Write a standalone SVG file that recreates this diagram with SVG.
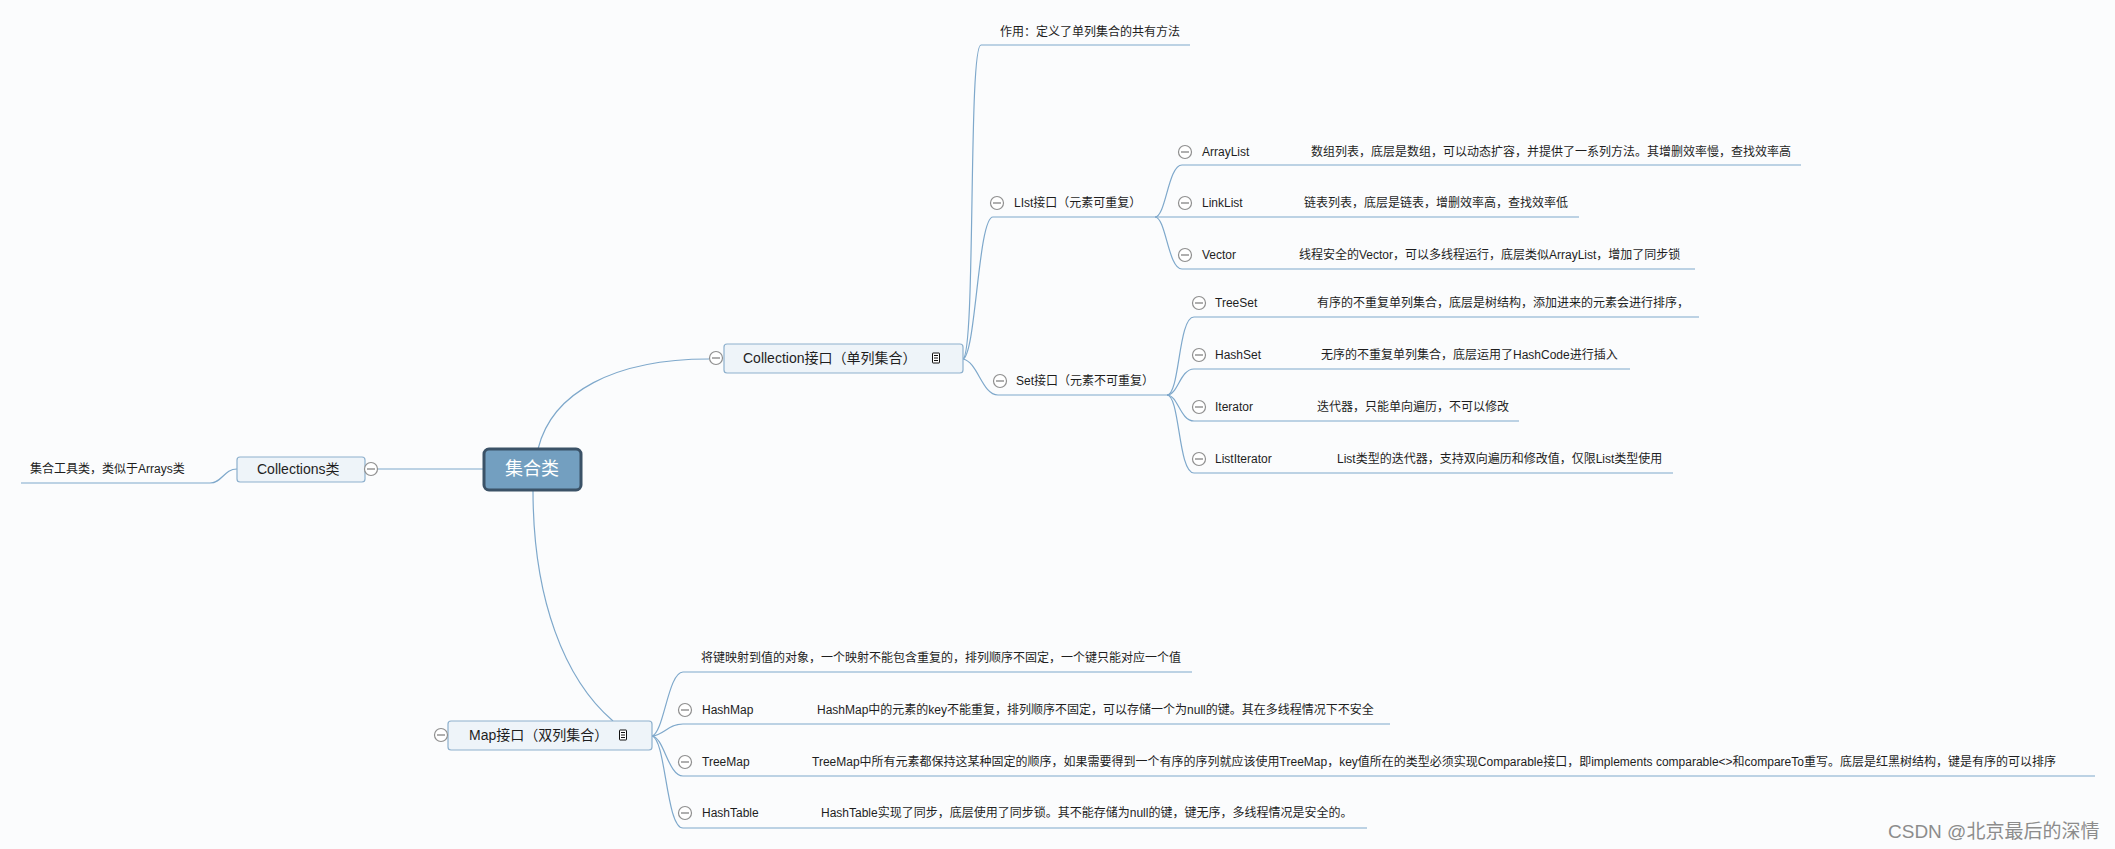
<svg xmlns="http://www.w3.org/2000/svg" width="2115" height="849" viewBox="0 0 2115 849">
<defs>
<style>
text{font-family:"Liberation Sans","Noto Sans CJK SC",sans-serif;fill:#1e1e1e;}
.t12{font-size:12px;}
.t14{font-size:14px;}
.root{font-size:18px;fill:#fff;text-anchor:middle;}
.wm{font-size:19px;fill:#8c8c8c;}
.ln{fill:none;stroke:#7ea8cb;stroke-width:1.2;}
.box{fill:#eef4f9;stroke:#8db0cd;stroke-width:1.2;}
.col{fill:#fff;stroke:#8f8f8f;stroke-width:1.2;}
.colm{stroke:#7a7a7a;stroke-width:1.2;}
.note{fill:#fff;stroke:#111;stroke-width:1;}
</style>
<g id="collapse">
<circle class="col" cx="0" cy="0" r="6.5"/>
<line class="colm" x1="-4" y1="0" x2="4" y2="0"/>
</g>
<g id="noteicon">
<rect class="note" x="-3.5" y="-5" width="7" height="10" rx="0.5"/>
<line stroke="#111" stroke-width="1" x1="-2" y1="-2.5" x2="2" y2="-2.5"/>
<line stroke="#111" stroke-width="1" x1="-2" y1="0" x2="2" y2="0"/>
<line stroke="#111" stroke-width="1" x1="-2" y1="2.5" x2="2" y2="2.5"/>
</g>
</defs>
<rect x="0" y="0" width="2115" height="849" fill="#fbfcfd"/>

<g id="connectors">
<path class="ln" d="M377,469 H484"/>
<path class="ln" d="M237,469 C224,469 222,483 210,483 H21"/>
<path class="ln" d="M538,449 C552,392 615,359 709,359"/>
<path class="ln" d="M533,490 C533,600 565,680 613,721"/>
<path class="ln" d="M963,359 C976,352 968,45 981,45 H1190"/>
<path class="ln" d="M963,359 C976,355 978,217 993,217 H1155"/>
<path class="ln" d="M963,359 C978,362 982,395 998,395 H1167"/>
<path class="ln" d="M1155,217 C1166,217 1168,165 1182,165 H1801"/>
<path class="ln" d="M1155,217 H1579"/>
<path class="ln" d="M1155,217 C1166,217 1168,269 1182,269 H1695"/>
<path class="ln" d="M1167,395 C1180,395 1178,317 1194,317 H1699"/>
<path class="ln" d="M1167,395 C1178,395 1180,369 1194,369 H1630"/>
<path class="ln" d="M1167,395 C1178,395 1180,421 1194,421 H1519"/>
<path class="ln" d="M1167,395 C1180,395 1178,473 1194,473 H1673"/>
<path class="ln" d="M652,736 C664,733 668,672 683,672 H1192"/>
<path class="ln" d="M652,736 C664,735 668,724 683,724 H1390"/>
<path class="ln" d="M652,736 C664,737 668,776 683,776 H2095"/>
<path class="ln" d="M652,736 C666,739 666,828 683,828 H1367"/>
</g>

<g id="root">
<rect x="484" y="449" width="97" height="41" rx="5" fill="#739fc0" stroke="#3b5267" stroke-width="3"/>
<text class="root" x="532" y="475">集合类</text>
</g>

<g id="collections">
<rect class="box" x="237" y="457" width="128" height="25" rx="3"/>
<text class="t14" x="257" y="474">Collections类</text>
<use href="#collapse" x="371" y="469"/>
</g>
<g id="collections-desc">
<text class="t12" x="30" y="473">集合工具类，类似于Arrays类</text>
</g>

<g id="collection">
<rect class="box" x="724" y="344" width="239" height="29" rx="3"/>
<text class="t14" x="743" y="363">Collection接口（单列集合）</text>
<use href="#noteicon" x="936" y="358"/>
<use href="#collapse" x="716" y="358"/>
</g>
<g id="collection-desc">
<text class="t12" x="1000" y="36">作用：定义了单列集合的共有方法</text>
</g>

<g id="list">
<use href="#collapse" x="997" y="203"/>
<text class="t12" x="1014" y="207">LIst接口（元素可重复）</text>
</g>
<g id="arraylist">
<use href="#collapse" x="1185" y="152"/>
<text class="t12" x="1202" y="156">ArrayList</text>
<text class="t12" x="1311" y="156">数组列表，底层是数组，可以动态扩容，并提供了一系列方法。其增删效率慢，查找效率高</text>
</g>
<g id="linklist">
<use href="#collapse" x="1185" y="203"/>
<text class="t12" x="1202" y="207">LinkList</text>
<text class="t12" x="1304" y="207">链表列表，底层是链表，增删效率高，查找效率低</text>
</g>
<g id="vector">
<use href="#collapse" x="1185" y="255"/>
<text class="t12" x="1202" y="259">Vector</text>
<text class="t12" x="1299" y="259">线程安全的Vector，可以多线程运行，底层类似ArrayList，增加了同步锁</text>
</g>

<g id="set">
<use href="#collapse" x="1000" y="381"/>
<text class="t12" x="1016" y="385">Set接口（元素不可重复）</text>
</g>
<g id="treeset">
<use href="#collapse" x="1199" y="303"/>
<text class="t12" x="1215" y="307">TreeSet</text>
<text class="t12" x="1317" y="307">有序的不重复单列集合，底层是树结构，添加进来的元素会进行排序，</text>
</g>
<g id="hashset">
<use href="#collapse" x="1199" y="355"/>
<text class="t12" x="1215" y="359">HashSet</text>
<text class="t12" x="1321" y="359">无序的不重复单列集合，底层运用了HashCode进行插入</text>
</g>
<g id="iterator">
<use href="#collapse" x="1199" y="407"/>
<text class="t12" x="1215" y="411">Iterator</text>
<text class="t12" x="1317" y="411">迭代器，只能单向遍历，不可以修改</text>
</g>
<g id="listiterator">
<use href="#collapse" x="1199" y="459"/>
<text class="t12" x="1215" y="463">ListIterator</text>
<text class="t12" x="1337" y="463">List类型的迭代器，支持双向遍历和修改值，仅限List类型使用</text>
</g>

<g id="map">
<rect class="box" x="448" y="721" width="204" height="29" rx="3"/>
<text class="t14" x="469" y="740">Map接口（双列集合）</text>
<use href="#noteicon" x="623" y="735"/>
<use href="#collapse" x="441" y="735"/>
</g>
<g id="map-desc">
<text class="t12" x="701" y="662">将键映射到值的对象，一个映射不能包含重复的，排列顺序不固定，一个键只能对应一个值</text>
</g>
<g id="hashmap">
<use href="#collapse" x="685" y="710"/>
<text class="t12" x="702" y="714">HashMap</text>
<text class="t12" x="817" y="714">HashMap中的元素的key不能重复，排列顺序不固定，可以存储一个为null的键。其在多线程情况下不安全</text>
</g>
<g id="treemap">
<use href="#collapse" x="685" y="762"/>
<text class="t12" x="702" y="766">TreeMap</text>
<text class="t12" x="812" y="766">TreeMap中所有元素都保持这某种固定的顺序，如果需要得到一个有序的序列就应该使用TreeMap，key值所在的类型必须实现Comparable接口，即implements comparable&lt;&gt;和compareTo重写。底层是红黑树结构，键是有序的可以排序</text>
</g>
<g id="hashtable">
<use href="#collapse" x="685" y="813"/>
<text class="t12" x="702" y="817">HashTable</text>
<text class="t12" x="821" y="817">HashTable实现了同步，底层使用了同步锁。其不能存储为null的键，键无序，多线程情况是安全的。</text>
</g>

<text class="wm" x="1888" y="838">CSDN @北京最后的深情</text>
</svg>
